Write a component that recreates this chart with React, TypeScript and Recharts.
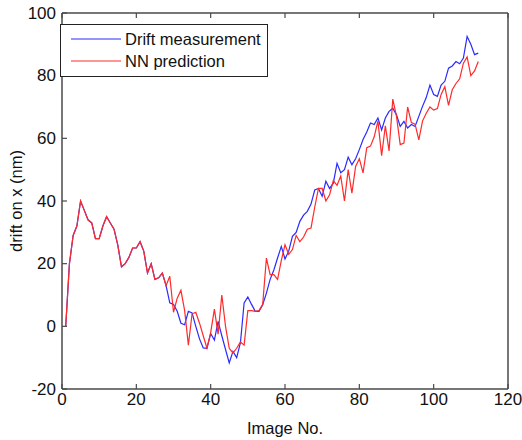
import React from 'react';
import { LineChart, Line, XAxis, YAxis, Legend, Label } from 'recharts';

// image index 1..112
const imageNo: number[] = Array.from({ length: 112 }, (_, i) => i + 1);

const driftMeasured: number[] = [
  0, 20, 29, 32, 40, 37, 34, 33, 28, 28,
  32, 35, 33, 31, 26, 19, 20, 22, 25, 25,
  27, 24, 17, 20, 15, 15.5, 17, 13, 7.5, 7,
  4.8, 1, 0.5, 4.8, 4.3, 0, -4, -6.9, -7, -2.3,
  -4.4, 1.6, -3, -7.4, -11.7, -8, -10, -5.3, 7.5, 9.4,
  7, 4.8, 4.8, 6.9, 10.6, 15, 18, 21.8, 25.5, 21.5,
  24, 28.7, 30, 33.5, 35.5, 36.7, 39, 43.5, 44, 41.5,
  46.3, 44, 45.7, 52, 49, 50, 54, 51.6, 53.5, 56.4,
  59.6, 62, 64.9, 64.4, 66.5, 62.7, 66.5, 68.6, 69.6, 67.5,
  63.8, 65.4, 63.3, 64.4, 63.8, 67, 70.2, 73, 77, 74,
  73.4, 77, 78.2, 82.4, 83.1, 84.5, 83.8, 85.6, 92.5, 90,
  86.7, 87.2,
];

const nnPrediction: number[] = [
  0, 20, 29, 32, 40, 37, 34, 33, 28, 28,
  32, 35, 33, 31, 26, 19, 20, 22, 25, 25,
  27, 24, 17, 20, 15, 15.5, 17, 13, 16, 4.5,
  9, 11.5, 5, -6, 4, 4.5, 1, -3, -7, -2,
  5.5, -2.5, 10, 0, -7, -8.5, -7, -5, -6, 5,
  5, 4.8, 5, 7, 21.8, 16.5, 16.5, 15, 21, 26,
  23, 24.5, 29, 27, 28.5, 31, 31.4, 38, 44, 44,
  40, 42, 46.5, 45, 48, 40, 50, 42.5, 51, 53.5,
  49, 57, 57.5, 60.5, 65.5, 54.5, 64, 56, 72.5, 67,
  58, 58.5, 70, 65, 64.5, 59.5, 65.5, 68, 70, 69,
  69.5, 74, 76.5, 70.5, 75.5, 77.5, 79, 84, 86, 80,
  81.5, 84.5,
];

const xTicks = [0, 20, 40, 60, 80, 100, 120];
const yTicks = [-20, 0, 20, 40, 60, 80, 100];

const data = imageNo.map((n, i) => ({
  n,
  measured: driftMeasured[i],
  predicted: nnPrediction[i],
}));

const FONT = '"Liberation Sans", Arial, sans-serif';
const AXIS = '#4a4a4a';
const TICK_LEN = 5;

// matlab style: tick marks point into the plot box, labels sit outside
const BottomTick = ({ x, y, payload }: any) => (
  <g>
    <line x1={x} y1={y} x2={x} y2={y - TICK_LEN} stroke={AXIS} strokeWidth={1.2} />
    <text x={x} y={y + 16} textAnchor="middle" fill="#111" fontSize={17} fontFamily={FONT}>
      {payload.value}
    </text>
  </g>
);

const LeftTick = ({ x, y, payload }: any) => (
  <g>
    <line x1={x} y1={y} x2={x + TICK_LEN} y2={y} stroke={AXIS} strokeWidth={1.2} />
    <text x={x - 6} y={y} textAnchor="end" dominantBaseline="central" fill="#111" fontSize={17} fontFamily={FONT}>
      {payload.value}
    </text>
  </g>
);

const TopTick = ({ x, y }: any) => (
  <line x1={x} y1={y} x2={x} y2={y + TICK_LEN} stroke={AXIS} strokeWidth={1.2} />
);

const RightTick = ({ x, y }: any) => (
  <line x1={x} y1={y} x2={x - TICK_LEN} y2={y} stroke={AXIS} strokeWidth={1.2} />
);

const LegendBox = ({ payload }: any) => (
  <div
    style={{
      border: '1px solid #222',
      background: '#fff',
      padding: '3px 0 4px 0',
      fontFamily: FONT,
      fontSize: 16.5,
      color: '#111',
      textAlign: 'left',
    }}
  >
    {(payload || []).map((p: any) => (
      <div key={p.value} style={{ display: 'flex', alignItems: 'center', height: 22 }}>
        <svg width={56} height={10} style={{ marginLeft: 8 }}>
          <line x1={2} y1={5} x2={52} y2={5} stroke={p.color} strokeWidth={1.2} />
        </svg>
        <span>{p.value}</span>
      </div>
    ))}
  </div>
);

const YLabel = ({ viewBox }: any) => {
  const cx = viewBox.x + 16;
  const cy = viewBox.y + viewBox.height / 2;
  return (
    <text
      x={cx}
      y={cy}
      transform={`rotate(-90, ${cx}, ${cy})`}
      textAnchor="middle"
      dominantBaseline="central"
      fontFamily={FONT}
      fontSize={16.5}
      fill="#111"
    >
      drift on x (nm)
    </text>
  );
};

const App: React.FC = () => {
  return (
    <div style={{ position: 'absolute', left: 0, top: 0, background: '#fff' }}>
      <LineChart
        width={522}
        height={440}
        data={data}
        margin={{ top: 12, right: 13, bottom: 0, left: 0 }}
      >
        <XAxis
          dataKey="n"
          type="number"
          domain={[0, 120]}
          ticks={xTicks}
          allowDataOverflow
          height={51}
          stroke={AXIS}
          strokeWidth={1.5}
          tickLine={false}
          tickSize={0}
          tickMargin={0}
          tick={<BottomTick />}
        >
          <Label
            value="Image No."
            position="insideBottom"
            offset={6}
            style={{ fill: '#111', fontSize: 16.5, fontFamily: FONT }}
          />
        </XAxis>
        <XAxis
          xAxisId="top"
          orientation="top"
          dataKey="n"
          type="number"
          domain={[0, 120]}
          ticks={xTicks}
          height={1}
          stroke={AXIS}
          strokeWidth={1.5}
          tickLine={false}
          tickSize={0}
          tickMargin={0}
          tick={<TopTick />}
        />
        <YAxis
          type="number"
          domain={[-20, 100]}
          ticks={yTicks}
          allowDataOverflow
          width={62}
          stroke={AXIS}
          strokeWidth={1.5}
          tickLine={false}
          tickSize={0}
          tickMargin={0}
          tick={<LeftTick />}
        >
          <Label content={<YLabel />} />
        </YAxis>
        <YAxis
          yAxisId="right"
          orientation="right"
          type="number"
          domain={[-20, 100]}
          ticks={yTicks}
          width={1}
          stroke={AXIS}
          strokeWidth={1.5}
          tickLine={false}
          tickSize={0}
          tickMargin={0}
          tick={<RightTick />}
        />
        <Legend
          layout="horizontal"
          verticalAlign="middle"
          align="center"
          content={<LegendBox />}
          wrapperStyle={{ position: 'absolute', left: 60, top: 24, width: 208 }}
        />
        <Line
          type="linear"
          dataKey="measured"
          name="Drift measurement"
          stroke="#2a2aff"
          strokeWidth={1.2}
          dot={false}
          isAnimationActive={false}
        />
        <Line
          type="linear"
          dataKey="predicted"
          name="NN prediction"
          stroke="#ff2a2a"
          strokeWidth={1.2}
          dot={false}
          isAnimationActive={false}
        />
      </LineChart>
    </div>
  );
};

export default App;
